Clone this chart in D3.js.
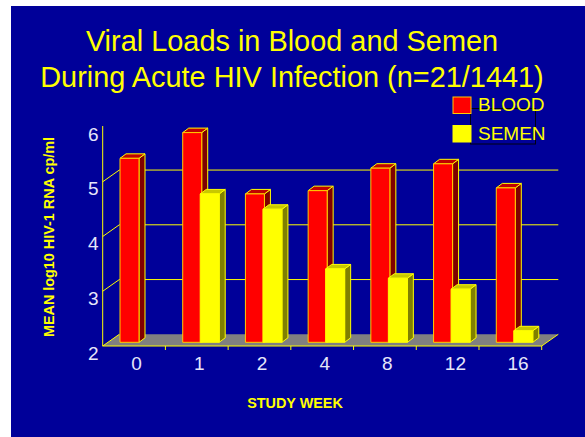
<!DOCTYPE html>
<html>
<head>
<meta charset="utf-8">
<script src="https://cdn.jsdelivr.net/npm/d3@7"></script>
<style>
html, body { margin: 0; padding: 0; background: #fff; }
svg { display: block; }
text { font-family: "Liberation Sans", Arial, sans-serif; }
</style>
</head>
<body>
<div id="chart"></div>
<script>
// Valores
const weeks = ['0', '1', '2', '4', '8', '12', '16'];
const seriesNames = ['BLOOD', 'SEMEN'];
const blood = [5.36, 5.83, 4.71, 4.77, 5.18, 5.26, 4.82];
const semen = [null, 4.71, 4.43, 3.34, 3.17, 2.97, 2.21];
const yTicks = [2, 3, 4, 5, 6];
const gridTicks = [3, 4, 5];

const titleLines = ['Viral Loads in Blood and Semen', 'During Acute HIV Infection (n=21/1441)'];

// Dimensiones
const width = 585;
const height = 437;
const plot = { left: 102.7, right: 541.7, bottom: 346, top: 127 };
const depth = { dx: 16.6, dy: 11.7 };
const barDepth = { dx: 6, dy: 4.5 };
const barBase = 342.3;
const barWidth = 19;

const colors = {
    bg: '#000099',
    floor: '#808080',
    line: '#ffff00',
    tick: '#e6e6fa',
    black: '#000011'
};
const faces = {
    BLOOD: { front: '#ff0000', side: '#800000', top: '#c00000', stroke: '#ffcc00' },
    SEMEN: { front: '#ffff00', side: '#808000', top: '#c8c800', stroke: '#ffff00' }
};

const svg = d3.select('#chart')
    .append('svg')
    .attr('width', width)
    .attr('height', height);

// Escalas
const x = d3.scaleBand().domain(weeks).range([plot.left, plot.right]);
const xSeries = d3.scalePoint().domain(seriesNames).range([17.3, 34.8]);
const y = d3.scaleLinear().domain([2, 6]).range([plot.bottom, plot.top]);
const yBar = d3.scaleLinear().domain([2, 6]).range([barBase, barBase - (plot.bottom - plot.top)]);

// Fondo
svg.append('rect')
    .attr('x', 11).attr('y', 6)
    .attr('width', width - 11).attr('height', height - 6)
    .attr('fill', colors.bg);

// Titulo
svg.append('g').selectAll('text')
    .data(titleLines)
    .join('text')
    .attr('x', 292)
    .attr('y', (d, i) => 50.5 + i * 36)
    .attr('text-anchor', 'middle')
    .attr('fill', colors.line)
    .style('font-size', '28.9px')
    .text(d => d);

// Piso
svg.append('polygon')
    .attr('points', [
        [plot.left, plot.bottom],
        [plot.left + depth.dx, plot.bottom - depth.dy],
        [plot.right + depth.dx, plot.bottom - depth.dy],
        [plot.right, plot.bottom]
    ].join(' '))
    .attr('fill', colors.floor);

// Grilla
const grid = svg.append('g');
grid.selectAll('.back')
    .data(gridTicks)
    .join('line')
    .attr('class', 'back')
    .attr('x1', plot.left + depth.dx)
    .attr('x2', plot.right + depth.dx)
    .attr('y1', d => y(d) - depth.dy)
    .attr('y2', d => y(d) - depth.dy)
    .attr('stroke', colors.line);
grid.selectAll('.wall')
    .data(yTicks.slice(0, 4))
    .join('line')
    .attr('class', 'wall')
    .attr('x1', plot.left)
    .attr('x2', plot.left + depth.dx)
    .attr('y1', d => y(d))
    .attr('y2', d => y(d) - depth.dy)
    .attr('stroke', colors.line);

// Ejes
svg.append('line')
    .attr('x1', plot.left).attr('x2', plot.left)
    .attr('y1', plot.bottom).attr('y2', plot.top - 1)
    .attr('stroke', colors.line);
svg.append('line')
    .attr('x1', plot.left).attr('x2', plot.right)
    .attr('y1', plot.bottom).attr('y2', plot.bottom)
    .attr('stroke', colors.line);
svg.append('line')
    .attr('x1', plot.right).attr('x2', plot.right + depth.dx)
    .attr('y1', plot.bottom).attr('y2', plot.bottom - depth.dy)
    .attr('stroke', colors.line);
svg.append('g').selectAll('line')
    .data(weeks.slice(1).concat('end'))
    .join('line')
    .attr('x1', (d, i) => plot.left + x.step() * (i + 1))
    .attr('x2', (d, i) => plot.left + x.step() * (i + 1))
    .attr('y1', plot.bottom)
    .attr('y2', plot.bottom + 4)
    .attr('stroke', colors.line);

const ejeX = d3.axisBottom(x).tickSize(0).tickPadding(11);
const ejeY = d3.axisLeft(y).tickValues(yTicks).tickSize(0).tickPadding(4).tickFormat(d3.format('d'));

const contenedorEjeX = svg.append('g')
    .attr('transform', `translate(2.5, ${plot.bottom})`)
    .call(ejeX);
const contenedorEjeY = svg.append('g')
    .attr('transform', `translate(${plot.left}, 7)`)
    .call(ejeY);

[contenedorEjeX, contenedorEjeY].forEach(eje => {
    eje.select('.domain').remove();
    eje.selectAll('text')
        .attr('fill', colors.tick)
        .style('font-size', '19px')
        .style('font-family', '"Liberation Sans", Arial, sans-serif');
});

// las etiquetas de dos digitos arrancan donde arrancan las de uno
contenedorEjeX.selectAll('text')
    .attr('text-anchor', 'start')
    .attr('x', -5.3);

// Barras 3D
const barData = weeks.flatMap((week, i) => [
    { week, serie: 'BLOOD', value: blood[i] },
    { week, serie: 'SEMEN', value: semen[i] }
]).filter(d => d.value !== null);

const bars = svg.append('g').selectAll('g')
    .data(barData)
    .join('g')
    .attr('stroke-width', 1)
    .attr('stroke-linejoin', 'round');

bars.each(function (d) {
    const g = d3.select(this);
    const x0 = x(d.week) + xSeries(d.serie);
    const x1 = x0 + barWidth;
    const top = yBar(d.value);
    const face = faces[d.serie];

    g.append('polygon')
        .attr('points', [
            [x1, top],
            [x1 + barDepth.dx, top - barDepth.dy],
            [x1 + barDepth.dx, barBase - barDepth.dy],
            [x1, barBase]
        ].join(' '))
        .attr('fill', face.side)
        .attr('stroke', colors.line);
    g.append('polygon')
        .attr('points', [
            [x0, top],
            [x0 + barDepth.dx, top - barDepth.dy],
            [x1 + barDepth.dx, top - barDepth.dy],
            [x1, top]
        ].join(' '))
        .attr('fill', face.top)
        .attr('stroke', colors.line);
    g.append('rect')
        .attr('x', x0)
        .attr('y', top)
        .attr('width', barWidth)
        .attr('height', barBase - top)
        .attr('fill', face.front)
        .attr('stroke', face.stroke);
});

// Titulos de ejes
svg.append('text')
    .attr('transform', 'translate(54, 237) rotate(-90)')
    .attr('text-anchor', 'middle')
    .attr('fill', colors.line)
    .style('font-size', '14.4px')
    .style('font-weight', 'bold')
    .text('MEAN log10 HIV-1 RNA cp/ml');

svg.append('text')
    .attr('x', 295)
    .attr('y', 408)
    .attr('text-anchor', 'middle')
    .attr('fill', colors.line)
    .style('font-size', '14.4px')
    .style('font-weight', 'bold')
    .text('STUDY WEEK');

// Leyenda
svg.append('rect')
    .attr('x', 470.5).attr('y', 108.5)
    .attr('width', 65).attr('height', 35.5)
    .attr('fill', 'none')
    .attr('stroke', colors.black);

const legend = svg.append('g').selectAll('g')
    .data(seriesNames)
    .join('g')
    .attr('transform', (d, i) => `translate(0, ${97 + i * 28.5})`);
legend.append('rect')
    .attr('x', 453)
    .attr('width', 18)
    .attr('height', 16.5)
    .attr('fill', d => faces[d].front)
    .attr('stroke', d => faces[d].stroke);
legend.append('text')
    .attr('x', 478)
    .attr('y', 14)
    .attr('fill', colors.line)
    .style('font-size', '19px')
    .text(d => d);
</script>
</body>
</html>
